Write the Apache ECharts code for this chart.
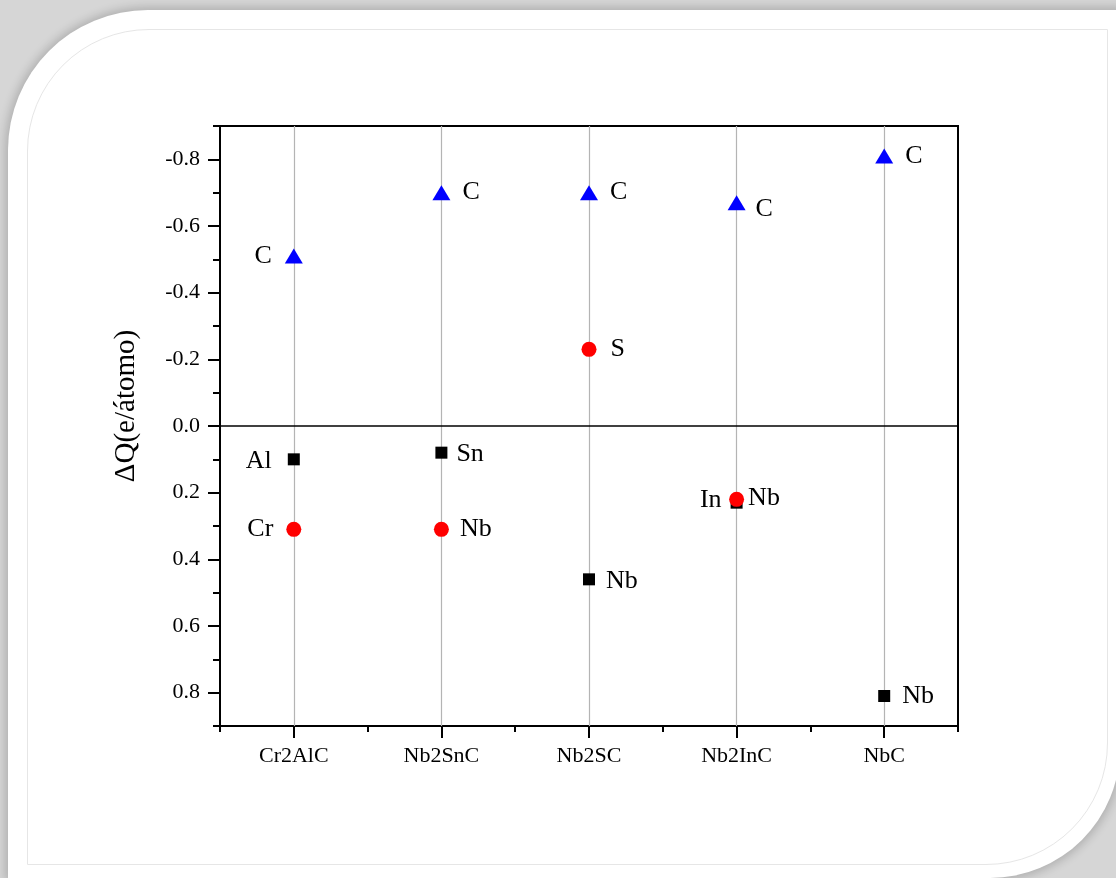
<!DOCTYPE html>
<html>
<head>
<meta charset="utf-8">
<title>ΔQ(e/átomo)</title>
<script src="https://cdn.jsdelivr.net/npm/echarts@6.0.0/dist/echarts.min.js"></script>
<style>
  html, body { margin: 0; padding: 0; width: 1116px; height: 878px; overflow: hidden; }
  body { background: #d6d6d6; position: relative; }
  .card {
    position: absolute; left: 8px; top: 10px; width: 1112px; height: 868px;
    background: #ffffff; border-radius: 140px 0 130px 0;
    box-shadow: 0 0 10px 3px rgba(0,0,0,0.18);
  }
  .inner {
    position: absolute; left: 27px; top: 29px; width: 1079px; height: 834px;
    border: 1px solid #e6e6e6; border-radius: 122px 0 122px 0;
  }
  #chart { position: absolute; left: 0; top: 0; width: 1116px; height: 878px; }
</style>
</head>
<body>
<div class="card"></div>
<div class="inner"></div>
<div id="chart"></div>
<script>
// Charge transfer per atom for each MAX phase / carbide
const categories = ['Cr2AlC', 'Nb2SnC', 'Nb2SC', 'Nb2InC', 'NbC'];

// C atoms (blue triangles)
const carbonQ = [-0.51, -0.70, -0.70, -0.67, -0.81];
const carbonAtom = ['C', 'C', 'C', 'C', 'C'];

// M / A atoms drawn as red circles
const circleQ = [0.31, 0.31, -0.23, 0.22, null];
const circleAtom = ['Cr', 'Nb', 'S', 'Nb', null];

// M / A atoms drawn as black squares
const squareQ = [0.10, 0.08, 0.46, 0.23, 0.81];
const squareAtom = ['Al', 'Sn', 'Nb', 'In', 'Nb'];

// y axis ticks
const yMajorTicks = [-0.8, -0.6, -0.4, -0.2, 0.0, 0.2, 0.4, 0.6, 0.8];
const yMinorTicks = [-0.9, -0.7, -0.5, -0.3, -0.1, 0.1, 0.3, 0.5, 0.7, 0.9];

// label placement for each point: [side, distance, dy]
const carbonLabelPos = [['left', 13, 0], ['right', 12, 0], ['right', 12, 0], ['right', 10, 7], ['right', 12, 0]];
const circleLabelPos = [['left', 13, 0], ['right', 11, 0], ['right', 14, 0], ['right', 4, -1], null];
const squareLabelPos = [['left', 16, 2], ['right', 9, 2], ['right', 11, 2], ['left', 9, -2], ['right', 12, 0]];

const SERIF = '"Liberation Serif", "Times New Roman", serif';

function buildPoints(values, atoms, placement) {
  const out = [];
  values.forEach((v, i) => {
    if (v === null || v === undefined) return;
    const p = placement[i];
    out.push({
      value: [i, v],
      label: {
        show: true,
        formatter: atoms[i],
        position: p[0],
        distance: p[1],
        offset: [0, p[2]]
      }
    });
  });
  return out;
}

const labelStyle = {
  show: true,
  fontFamily: SERIF,
  fontSize: 26,
  color: '#000',
  opacity: 1
};

const chart = echarts.init(document.getElementById('chart'), null, { renderer: 'canvas' });

chart.setOption({
  backgroundColor: 'transparent',
  animation: false,
  grid: {
    left: 220, top: 126, width: 738, height: 600,
    show: true, borderColor: '#000', borderWidth: 2, backgroundColor: 'transparent'
  },
  xAxis: [
    {
      type: 'category',
      data: categories,
      position: 'bottom',
      boundaryGap: true,
      axisLine: { show: true, onZero: false, lineStyle: { color: '#000', width: 2 } },
      axisTick: { show: true, alignWithLabel: true, length: 12, lineStyle: { color: '#000', width: 2 } },
      axisLabel: { show: true, margin: 19, fontFamily: SERIF, fontSize: 22, color: '#000' },
      splitLine: { show: false }
    },
    {
      type: 'category',
      data: categories,
      position: 'bottom',
      boundaryGap: true,
      axisLine: { show: true, onZero: false, lineStyle: { color: '#000', width: 2 } },
      axisTick: { show: true, alignWithLabel: false, length: 6, lineStyle: { color: '#000', width: 2 } },
      axisLabel: { show: false },
      splitLine: { show: false }
    }
  ],
  yAxis: [
    {
      type: 'value',
      min: -0.9,
      max: 0.9,
      inverse: true,
      position: 'left',
      name: 'ΔQ(e/átomo)',
      nameLocation: 'middle',
      nameGap: 79,
      nameRotate: 90,
      nameTextStyle: { fontFamily: SERIF, fontSize: 29, color: '#000', padding: [0, 0, 0, 40] },
      axisLine: { show: true, onZero: false, lineStyle: { color: '#000', width: 2 } },
      axisTick: { show: true, length: 12, customValues: yMajorTicks, lineStyle: { color: '#000', width: 2 } },
      axisLabel: {
        show: true, margin: 20, customValues: yMajorTicks,
        fontFamily: SERIF, fontSize: 22, color: '#000',
        formatter: v => (Math.abs(v) < 1e-9 ? 0 : v).toFixed(1)
      },
      splitLine: { show: false }
    },
    {
      type: 'value',
      min: -0.9,
      max: 0.9,
      inverse: true,
      position: 'left',
      axisLine: { show: true, onZero: false, lineStyle: { color: '#000', width: 2 } },
      axisTick: { show: true, length: 7, customValues: yMinorTicks, lineStyle: { color: '#000', width: 2 } },
      axisLabel: { show: false },
      splitLine: { show: false }
    }
  ],
  series: [
    {
      name: 'square',
      type: 'scatter',
      z: 10,
      xAxisIndex: 0, yAxisIndex: 0,
      symbol: 'rect',
      symbolSize: 12,
      itemStyle: { color: '#000', opacity: 1 },
      label: labelStyle,
      data: buildPoints(squareQ, squareAtom, squareLabelPos),
      markLine: {
        silent: true,
        z: 3,
        symbol: 'none',
        label: { show: false },
        animation: false,
        data: categories.map(c => ({ xAxis: c, lineStyle: { color: '#b4b4b4', width: 1.2, type: 'solid' } }))
          .concat([{ yAxis: 0, lineStyle: { color: '#000', width: 1.6, type: 'solid' } }])
      }
    },
    {
      name: 'circle',
      type: 'scatter',
      z: 11,
      xAxisIndex: 0, yAxisIndex: 0,
      symbol: 'circle',
      symbolSize: 15,
      itemStyle: { color: '#ff0000', opacity: 1 },
      label: labelStyle,
      data: buildPoints(circleQ, circleAtom, circleLabelPos)
    },
    {
      name: 'triangle',
      type: 'scatter',
      z: 12,
      xAxisIndex: 0, yAxisIndex: 0,
      symbol: 'triangle',
      symbolSize: [18, 15],
      itemStyle: { color: '#0000ff', opacity: 1 },
      label: labelStyle,
      data: buildPoints(carbonQ, carbonAtom, carbonLabelPos)
    }
  ]
});
</script>
</body>
</html>
